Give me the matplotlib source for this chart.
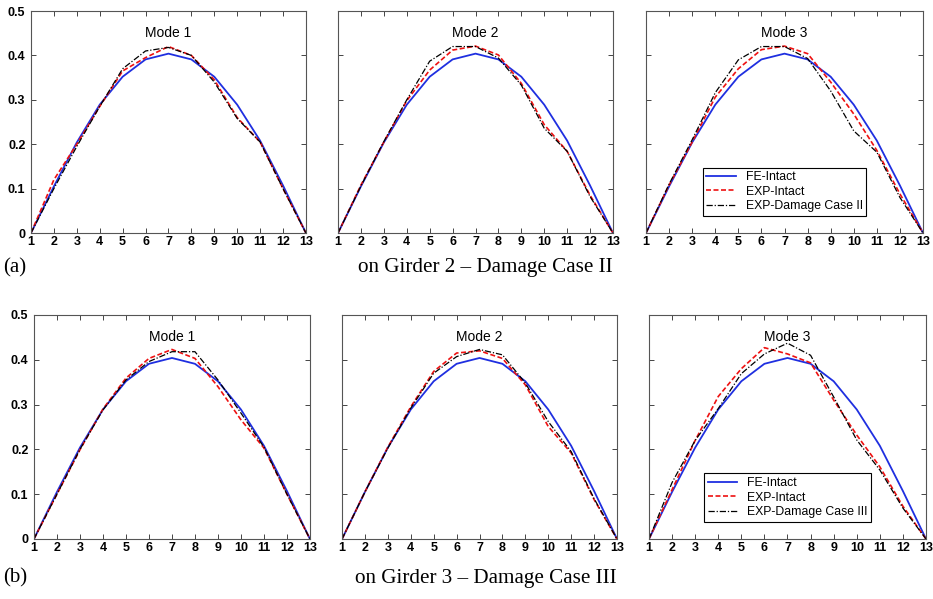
import matplotlib.pyplot as plt
import numpy as np

nodes = list(range(1, 14))

# FE model of the intact bridge (same shapes for the three modes)
fe_intact = [0, 0.105, 0.204, 0.289, 0.352, 0.391, 0.404, 0.391, 0.352, 0.289, 0.208, 0.107, 0]

# row (a): damage case II, girder 2
exp_a = [
    [0, 0.120, 0.200, 0.285, 0.365, 0.395, 0.420, 0.400, 0.345, 0.260, 0.205, 0.100, 0],
    [0, 0.108, 0.205, 0.298, 0.367, 0.412, 0.421, 0.401, 0.337, 0.244, 0.184, 0.085, 0],
    [0, 0.108, 0.205, 0.306, 0.370, 0.413, 0.421, 0.404, 0.340, 0.268, 0.186, 0.088, 0],
]
dmg_a = [
    [0, 0.100, 0.195, 0.285, 0.370, 0.410, 0.418, 0.400, 0.340, 0.258, 0.205, 0.100, 0],
    [0, 0.106, 0.206, 0.300, 0.387, 0.420, 0.420, 0.394, 0.333, 0.236, 0.184, 0.082, 0],
    [0, 0.110, 0.210, 0.316, 0.390, 0.420, 0.420, 0.393, 0.320, 0.230, 0.182, 0.080, 0],
]

# row (b): damage case III, girder 3
exp_b = [
    [0, 0.100, 0.199, 0.290, 0.359, 0.403, 0.423, 0.403, 0.340, 0.266, 0.203, 0.100, 0],
    [0, 0.105, 0.205, 0.295, 0.374, 0.415, 0.420, 0.403, 0.344, 0.251, 0.192, 0.088, 0],
    [0, 0.110, 0.220, 0.318, 0.380, 0.427, 0.413, 0.393, 0.310, 0.232, 0.161, 0.073, 0],
]
dmg_b = [
    [0, 0.100, 0.200, 0.288, 0.355, 0.396, 0.418, 0.418, 0.355, 0.281, 0.205, 0.100, 0],
    [0, 0.105, 0.203, 0.292, 0.370, 0.407, 0.423, 0.411, 0.348, 0.262, 0.195, 0.090, 0],
    [0, 0.126, 0.220, 0.291, 0.369, 0.413, 0.437, 0.410, 0.317, 0.221, 0.154, 0.069, 0],
]

mode_titles = ['Mode 1', 'Mode 2', 'Mode 3']
row_captions = ['on Girder 2 \u2013 Damage Case II', 'on Girder 3 \u2013 Damage Case III']
row_tags = ['(a)', '(b)']
dmg_labels = ['EXP-Damage Case II', 'EXP-Damage Case III']

plt.rcParams['font.family'] = ['Liberation Sans', 'DejaVu Sans']

fig = plt.figure(figsize=(9.33, 5.99), dpi=100)

rows = [
    # (bottom, height, [(left, width), ...])
    (0.611, 0.3706, [(0.0332, 0.2947), (0.3623, 0.2947), (0.6924, 0.2969)]),
    (0.1002, 0.374, [(0.0364, 0.2958), (0.3666, 0.2947), (0.6956, 0.2969)]),
]
exps = [exp_a, exp_b]
dmgs = [dmg_a, dmg_b]

for r, (bottom, height, cols) in enumerate(rows):
    for c, (left, width) in enumerate(cols):
        ax = fig.add_axes([left, bottom, width, height])
        ax.plot(nodes, fe_intact, color='#1f2fe0', lw=1.3, label='FE-Intact')
        ax.plot(nodes, exps[r][c], color='#ee1111', lw=1.2, ls=(0, (3, 1.5)), label='EXP-Intact')
        ax.plot(nodes, dmgs[r][c], color='black', lw=0.9, ls=(0, (5, 1.5, 1, 1.5)), label=dmg_labels[r])
        ax.set_xlim(1, 13)
        ax.set_ylim(0, 0.5)
        ax.set_xticks(nodes)
        ax.set_yticks([0, 0.1, 0.2, 0.3, 0.4, 0.5])
        ax.set_yticklabels(['0', '0.1', '0.2', '0.3', '0.4', '0.5'])
        ax.tick_params(direction='in', length=3.5, width=0.7, top=True, right=True,
                       labelsize=9, colors='#444444', labelcolor='black')
        ax.tick_params(axis='x', pad=2)
        ax.tick_params(axis='y', pad=4)
        for lab in ax.get_xticklabels() + ax.get_yticklabels():
            lab.set_fontweight('bold')
        if c > 0:
            ax.set_yticklabels([])
        for sp in ax.spines.values():
            sp.set_color('#555555')
            sp.set_linewidth(0.8)
        ax.text(0.5, 0.9, mode_titles[c], transform=ax.transAxes, ha='center', va='center',
                fontsize=10)
        if c == 2:
            leg = ax.legend(loc='lower center', bbox_to_anchor=(0.5, 0.05), fontsize=8.8,
                            handlelength=2.4, handletextpad=0.8, labelspacing=0.2,
                            borderpad=0.3, fancybox=False, framealpha=1)
            leg.get_frame().set_edgecolor('black')
            leg.get_frame().set_linewidth(0.8)

serif = 'Liberation Serif'
fig.text(0.003, 0.553, row_tags[0], fontsize=15, family=serif, va='center')
fig.text(0.3837, 0.553, row_captions[0], fontsize=15.2, family=serif, va='center')
fig.text(0.003, 0.035, row_tags[1], fontsize=15, family=serif, va='center')
fig.text(0.3805, 0.035, row_captions[1], fontsize=15.2, family=serif, va='center')

fig.savefig('out.png', dpi=100)
